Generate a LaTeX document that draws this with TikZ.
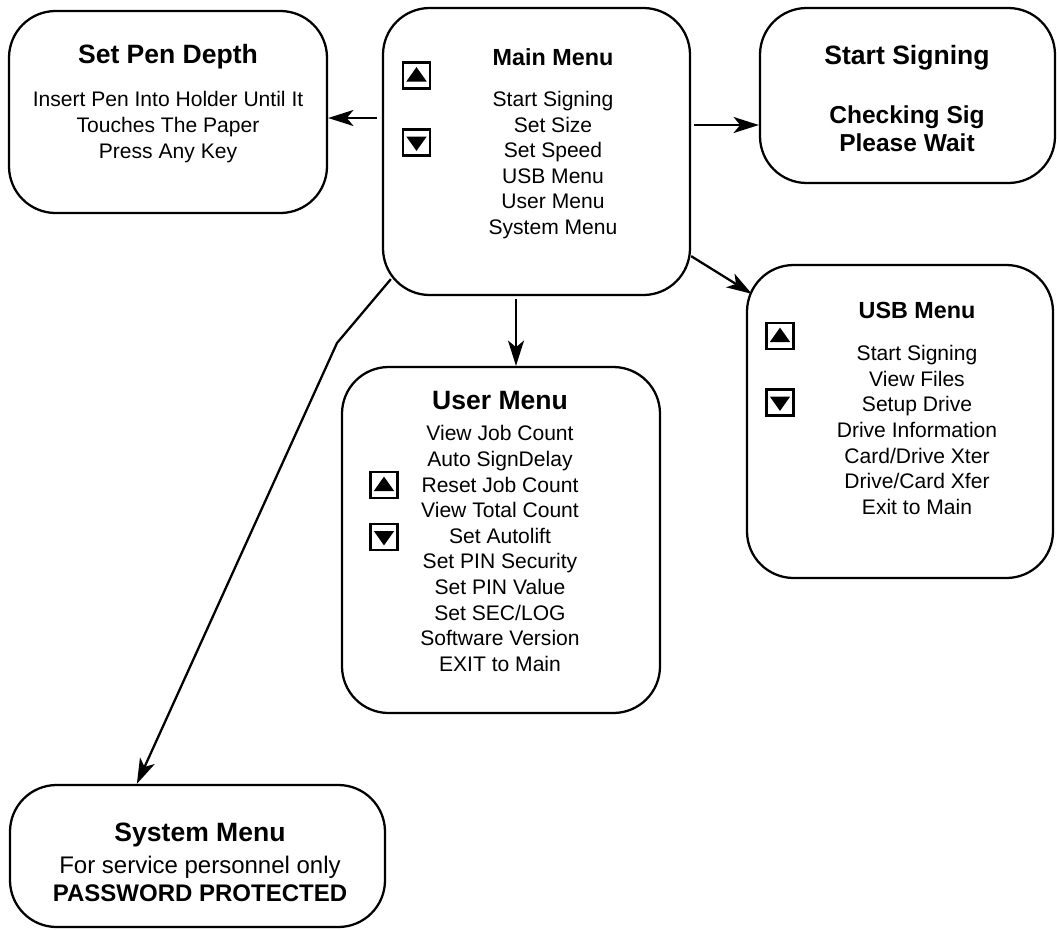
\documentclass[tikz,border=0pt]{standalone}
\usepackage{fontspec}
\setmainfont{Liberation Sans}
\usetikzlibrary{arrows.meta,calc}

\tikzset{every picture/.style={line width=1.7pt}}
\tikzset{
  menubox/.style={draw, rounded corners=35pt, inner sep=0pt},
  bigtitle/.style={font=\bfseries\fontsize{19.9}{24}\selectfont},
  subtitle/.style={font=\bfseries\fontsize{17.5}{21}\selectfont},
  items/.style={align=center, inner sep=0pt, font=\fontsize{15.8}{19.2}\selectfont},
  keybox/.style={draw, line width=1.9pt, minimum width=20.5pt, minimum height=19.5pt, inner sep=0pt},
  arr/.style={-{Stealth[length=19pt,width=12pt,inset=5pt]}},
  upmark/.pic={\fill (-10.2,-6) -- (10.2,-6) -- (0,8.4) -- cycle;},
  dnmark/.pic={\fill (-10.2,6) -- (10.2,6) -- (0,-8.4) -- cycle;},
}

\begin{document}
\begin{tikzpicture}[x=0.75pt,y=0.75pt,yscale=-1,xscale=1]
	\path[use as bounding box] (0,0) rectangle (1057,929);

	%Set Pen Depth
	\node[menubox, minimum width=238.5pt, minimum height=151.5pt] (pen) at (168,112) {};
	\node[bigtitle] (pent) at (168,57) {Set Pen Depth};
	\node[items] (penl) at (168,127) {Insert Pen Into Holder Until It\\Touches The Paper\\Press Any Key};

	%Main Menu
	\node[menubox, minimum width=230.25pt, minimum height=215.25pt] (main) at (536.5,151.5) {};
	\node[subtitle] (maint) at (553,57) {Main Menu};
	\node[items] (mainl) at (553,165) {Start Signing\\Set Size\\Set Speed\\USB Menu\\User Menu\\System Menu};
	\node[keybox] (mainup) at (416.5,75.5) {};
	\node[keybox] (maindn) at (416.5,142.5) {};
	\pic at (mainup) {upmark};
	\pic at (maindn) {dnmark};

	%Start Signing
	\node[menubox, minimum width=221.25pt, minimum height=131.25pt] (sign) at (907.5,95.5) {};
	\node[bigtitle] (signt) at (907,58) {Start Signing};
	\node[items, font=\bfseries\fontsize{18.4}{21}\selectfont] (signl) at (907,129) {Checking Sig\\Please Wait};

	%USB Menu
	\node[menubox, minimum width=229.5pt, minimum height=234.75pt] (usb) at (900,421.5) {};
	\node[subtitle] (usbt) at (917,310) {USB Menu};
	\node[items] (usbl) at (917,430) {Start Signing\\View Files\\Setup Drive\\Drive Information\\Card/Drive Xter\\Drive/Card Xfer\\Exit to Main};
	\node[keybox] (usbup) at (780,336) {};
	\node[keybox] (usbdn) at (780,402.5) {};
	\pic at (usbup) {upmark};
	\pic at (usbdn) {dnmark};

	%User Menu
	\node[menubox, minimum width=238.5pt, minimum height=259.5pt] (user) at (501,540) {};
	\node[bigtitle] (usert) at (500,400) {User Menu};
	\node[items] (userl) at (500,548.5) {View Job Count\\Auto SignDelay\\Reset Job Count\\View Total Count\\Set Autolift\\Set PIN Security\\Set PIN Value\\Set SEC/LOG\\Software Version\\EXIT to Main};
	\node[keybox] (userup) at (384,485) {};
	\node[keybox] (userdn) at (384,537) {};
	\pic at (userup) {upmark};
	\pic at (userdn) {dnmark};

	%System Menu
	\node[menubox, minimum width=281.25pt, minimum height=106.5pt] (sys) at (197.5,856) {};
	\node[bigtitle] (syst) at (200,835) {System Menu};
	\node[items, font=\fontsize{18}{21}\selectfont] (sysl) at (200,879) {For service personnel only\\\textbf{PASSWORD PROTECTED}};

	%Connectors
	\coordinate (pny) at (0,118);
	\coordinate (sgy) at (0,125);
	\coordinate (usx) at (516,0);
	\coordinate (bend) at (337,343);
	\draw[arr, shorten <=3.75pt] (main.west |- pny) -- (pen.east |- pny);
	\draw[arr, shorten <=2.25pt] (main.east |- sgy) -- (sign.west |- sgy);
	\draw[arr, shorten <=2.25pt] (main.south -| usx) -- (user.north -| usx);
	\draw[arr] ($(main.south east)+(0,-40)$) -- ($(usb.north west)+(6,30)$);
	\draw[arr] ($(main.south west)+(9,-17)$) -- (bend) -- ($(sys.north west)+(128,0)$);

\end{tikzpicture}
\end{document}
